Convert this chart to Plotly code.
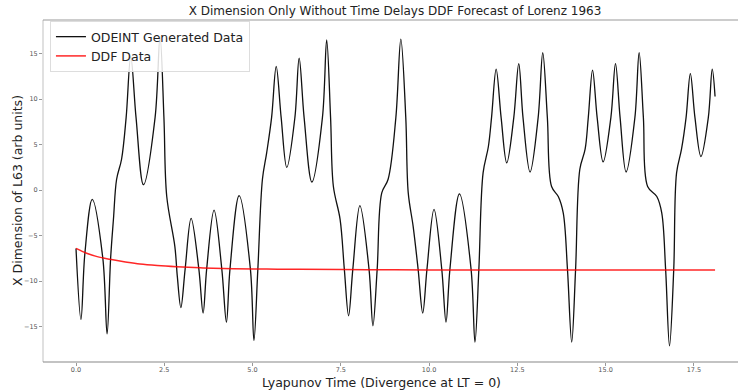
import plotly.graph_objects as go

# Lyapunov time axis and X component of the ODEINT integrated Lorenz 1963 trajectory
lt_ode = [0.00, 0.14, 0.25, 0.46, 0.76, 0.88, 0.98, 1.06, 1.15, 1.29, 1.42, 1.55, 1.70, 1.91,
          2.24, 2.38, 2.49, 2.57, 2.80, 2.87, 2.97, 3.09, 3.26, 3.48, 3.60, 3.70, 3.91, 4.13,
          4.26, 4.36, 4.62, 4.94, 5.04, 5.15, 5.28, 5.40, 5.54, 5.67, 5.81, 5.97, 6.20, 6.32,
          6.46, 6.68, 6.98, 7.10, 7.21, 7.29, 7.48, 7.60, 7.72, 7.84, 8.04, 8.30, 8.41, 8.53,
          8.66, 8.84, 9.06, 9.20, 9.34, 9.41, 9.55, 9.69, 9.82, 9.94, 10.14, 10.36, 10.48,
          10.59, 10.86, 11.19, 11.30, 11.41, 11.53, 11.68, 11.77, 11.90, 12.04, 12.20, 12.40,
          12.54, 12.66, 12.86, 13.09, 13.22, 13.35, 13.47, 13.66, 13.80, 13.92, 14.04, 14.15,
          14.27, 14.42, 14.51, 14.63, 14.76, 14.93, 15.15, 15.28, 15.41, 15.58, 15.83, 15.95,
          16.07, 16.19, 16.45, 16.59, 16.70, 16.81, 16.93, 17.01, 17.15, 17.28, 17.40, 17.53,
          17.70, 17.91, 18.02, 18.10]
x_ode = [-6.4, -14.2, -7.0, -1.0, -7.5, -15.8, -7.5, -3.2, 1.2, 3.4, 8.0, 14.7, 8.0, 0.6,
         8.0, 16.9, 8.0, -0.7, -6.2, -9.5, -12.9, -8.7, -3.1, -8.7, -13.5, -8.7, -2.2, -8.7,
         -14.5, -8.7, -0.6, -8.7, -16.5, -8.7, 1.2, 4.1, 8.0, 13.6, 8.0, 2.5, 8.0, 14.5,
         8.0, 0.9, 8.0, 16.5, 8.0, 0.4, -3.2, -8.7, -13.8, -8.7, -1.7, -8.7, -14.9, -8.7,
         -0.3, 1.2, 8.0, 16.6, 8.0, -0.3, -4.0, -8.7, -13.5, -8.7, -2.1, -8.7, -14.5,
         -8.7, -0.4, -8.7, -16.7, -8.7, 1.9, 4.8, 8.0, 13.3, 8.0, 3.0, 8.0,
         13.9, 8.0, 2.0, 8.0, 15.1, 8.0, 0.4, -0.7, -2.5, -8.7, -16.7, -8.7,
         2.3, 4.5, 8.0, 13.2, 8.0, 3.1, 8.0, 13.9, 8.0, 2.0, 8.0, 15.1,
         8.0, 0.4, -0.7, -2.5, -8.7, -17.1, -8.7, 1.9, 4.5, 8.0, 12.8, 8.0,
         3.7, 8.0, 13.3, 10.3]

# DDF forecast of the same component
lt_ddf = [0.00, 0.30, 0.60, 0.96, 1.40, 1.81, 2.30, 2.85, 3.60, 4.45, 5.40, 6.34, 8.23,
          10.0, 12.0, 14.0, 16.0, 18.10]
x_ddf = [-6.4, -6.93, -7.30, -7.59, -7.88, -8.11, -8.28, -8.41, -8.54, -8.63, -8.67, -8.69,
         -8.74, -8.76, -8.77, -8.77, -8.77, -8.77]

x_ticks = [0.0, 2.5, 5.0, 7.5, 10.0, 12.5, 15.0, 17.5]
x_tick_text = ["0.0", "2.5", "5.0", "7.5", "10.0", "12.5", "15.0", "17.5"]
y_ticks = [-15, -10, -5, 0, 5, 10, 15]
y_tick_text = ["\u221215", "\u221210", "\u22125", "0", "5", "10", "15"]

FONT = "DejaVu Sans"

fig = go.Figure()
fig.add_trace(go.Scatter(
    x=lt_ode, y=x_ode, mode="lines", name="ODEINT Generated Data",
    line=dict(color="#111111", width=1.3, shape="spline", smoothing=1.0),
))
fig.add_trace(go.Scatter(
    x=lt_ddf, y=x_ddf, mode="lines", name="DDF Data",
    line=dict(color="rgba(255,0,0,0.85)", width=1.5, shape="spline", smoothing=1.0),
))

axis_common = dict(
    showgrid=False, zeroline=False, showline=False,
    ticks="outside", ticklen=3, tickwidth=1, tickcolor="#999999",
    tickfont=dict(family=FONT, size=6.5, color="#555555"),
)

fig.update_layout(
    width=738, height=392,
    margin=dict(l=43, r=0, t=20, b=30),
    paper_bgcolor="white", plot_bgcolor="white",
    font=dict(family=FONT),
    title=dict(
        text="X Dimension Only Without Time Delays DDF Forecast of Lorenz 1963",
        x=395 / 738, xanchor="center", xref="container",
        y=1 - 11 / 392, yanchor="middle", yref="container",
        font=dict(family=FONT, size=12, color="#222222"),
    ),
    xaxis=dict(range=[-0.935, 18.75], tickvals=x_ticks, ticktext=x_tick_text,
               ticklabelstandoff=-2, **axis_common),
    yaxis=dict(range=[-18.88, 18.70], tickvals=y_ticks, ticktext=y_tick_text, **axis_common),
    showlegend=True,
    legend=dict(
        x=0.010, y=0.997, xanchor="left", yanchor="top",
        bgcolor="rgba(255,255,255,0.85)", bordercolor="#dddddd", borderwidth=1,
        font=dict(family=FONT, size=12.5, color="#222222"),
        tracegroupgap=0,
    ),
    annotations=[
        dict(text="Lyapunov Time (Divergence at LT = 0)", xref="paper", yref="paper",
             x=(381.5 - 43) / 695, y=-(382.5 - 362) / 342, xanchor="center", yanchor="middle",
             showarrow=False, font=dict(family=FONT, size=12.5, color="#222222")),
        dict(text="X Dimension of L63 (arb units)", xref="paper", yref="paper",
             x=-(43 - 17) / 695, y=0.5, xanchor="center", yanchor="middle", textangle=-90,
             showarrow=False, font=dict(family=FONT, size=12.5, color="#222222")),
    ],
    shapes=[
        # frame lines: light left spine, darker bottom and top spines
        dict(type="line", xref="paper", yref="paper", x0=0, x1=0, y0=0, y1=1,
             line=dict(color="#cccccc", width=1.2)),
        dict(type="line", xref="paper", yref="paper", x0=0, x1=1, y0=0, y1=0,
             line=dict(color="#888888", width=1.2)),
        dict(type="line", xref="paper", yref="paper", x0=0, x1=1, y0=1, y1=1,
             line=dict(color="#999999", width=1.2)),
    ],
)

fig.write_html("out.html")
